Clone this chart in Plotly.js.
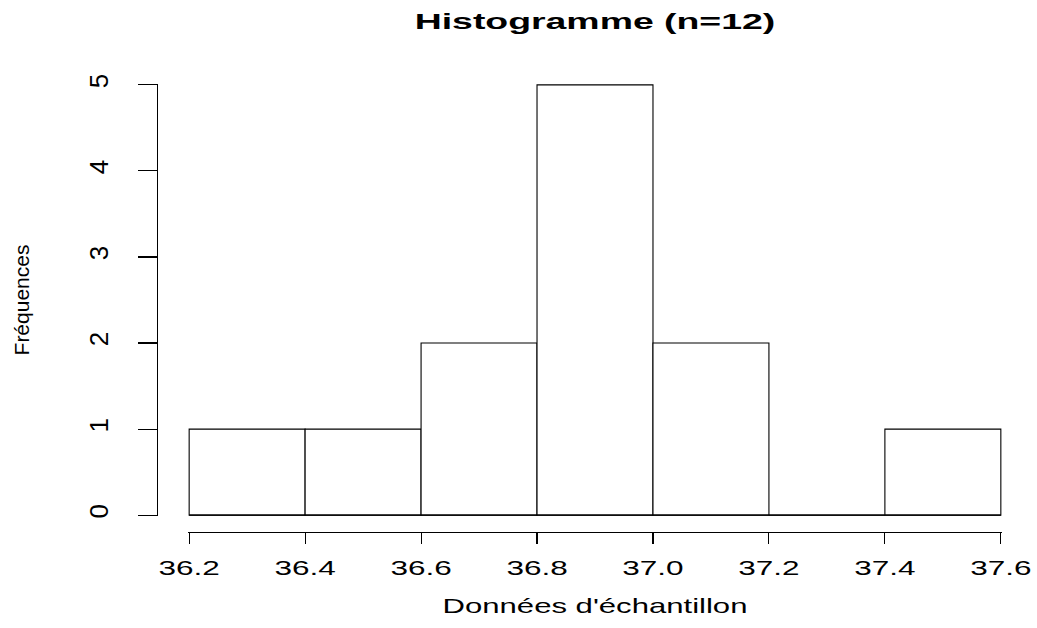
<!DOCTYPE html>
<html>
<head>
<meta charset="utf-8">
<script src="https://cdn.plot.ly/plotly-3.0.1.min.js"></script>
<style>
  html, body { margin: 0; padding: 0; background: #fff; }
  #chart { width: 1037px; height: 628px; }
</style>
</head>
<body>
<div id="chart"></div>
<script>
// ---- data ----
const binEdges = [36.2, 36.4, 36.6, 36.8, 37.0, 37.2, 37.4, 37.6];
const counts = [1, 1, 2, 5, 2, 0, 1];
const xTickLabels = ['36.2', '36.4', '36.6', '36.8', '37.0', '37.2', '37.4', '37.6'];
const yTicks = [0, 1, 2, 3, 4, 5];
const titleText = 'Histogramme (n=12)';
const xTitle = "Données d'échantillon";
const yTitle = 'Fréquences';

// bar centres / widths derived from the bin edges
const mids = counts.map((c, i) => (binEdges[i] + binEdges[i + 1]) / 2);
const widths = counts.map((c, i) => binEdges[i + 1] - binEdges[i]);

const W = 1037, H = 628;
const L = 157, R = 35, T = 84, B = 96;
const plotW = W - L - R, plotH = H - T - B;
const barLeftPx = 188, barBottomPx = 516;

const xLo = binEdges[0], xHi = binEdges[binEdges.length - 1];
const xPad = 0.002, yPad = 0.01;

const bars = {
  type: 'bar',
  x: mids,
  y: counts,
  width: widths,
  marker: { color: '#ffffff', line: { color: '#000000', width: 1.1 } },
  cliponaxis: false,
  hoverinfo: 'x+y',
  showlegend: false
};
// baseline drawn like R's degenerate rectangles for empty bins
const baseline = {
  type: 'scatter',
  mode: 'lines',
  x: [xLo, xHi],
  y: [0, 0],
  line: { color: '#000000', width: 1.1 },
  hoverinfo: 'skip',
  showlegend: false
};

const fontFam = '"Liberation Sans", Arial, Helvetica, sans-serif';

const layout = {
  width: W, height: H,
  paper_bgcolor: '#ffffff', plot_bgcolor: '#ffffff',
  margin: { l: L, r: R, t: T, b: B, pad: 0 },
  font: { family: fontFam, color: '#000000' },
  title: {
    text: titleText,
    font: { family: fontFam, size: 22, weight: 'bold', color: '#000' },
    xref: 'container', x: (barLeftPx + (W - R)) / 2 / W, xanchor: 'center',
    yref: 'container', y: 1 - 21 / H, yanchor: 'middle'
  },
  xaxis: {
    range: [xLo - xPad, xHi + xPad],
    domain: [(barLeftPx - L) / plotW, 1],
    anchor: 'free', position: 0,
    tickmode: 'array', tickvals: binEdges, ticktext: xTickLabels,
    ticks: 'outside', ticklen: 11, tickwidth: 1.1, tickcolor: '#000',
    ticklabelstandoff: 6,
    showline: true, linecolor: '#000', linewidth: 1.1,
    showgrid: false, zeroline: false,
    tickfont: { family: fontFam, size: 21, color: '#000' },
    title: { text: xTitle, font: { family: fontFam, size: 21, color: '#000' }, standoff: 20 }
  },
  yaxis: {
    range: [0 - yPad, yTicks[yTicks.length - 1] + yPad],
    domain: [((T + plotH) - barBottomPx) / plotH, 1],
    anchor: 'free', position: 0,
    tickmode: 'array', tickvals: yTicks,
    ticks: 'outside', ticklen: 19, tickwidth: 1.1, tickcolor: '#000',
    ticklabelstandoff: 20,
    tickangle: -90,
    showline: true, linecolor: '#000', linewidth: 1.1,
    showgrid: false, zeroline: false,
    tickfont: { family: fontFam, size: 26, color: '#000' },
    title: { text: yTitle, font: { family: fontFam, size: 21, color: '#000' }, standoff: 47 }
  },
  showlegend: false,
  bargap: 0
};

Plotly.newPlot('chart', [bars, baseline], layout, { displayModeBar: false, staticPlot: true }).then(function () {
  // R's device renders horizontal text wider than normal Arial: stretch glyphs.
  function stretch(sel, factor) {
    document.querySelectorAll(sel).forEach(function (t) {
      var w = t.getComputedTextLength();
      if (w > 0) {
        t.setAttribute('textLength', (w * factor).toFixed(1));
        t.setAttribute('lengthAdjust', 'spacingAndGlyphs');
      }
    });
  }
  stretch('.gtitle', 1.7);
  stretch('.xtick text', 1.5);
  stretch('.g-xtitle text', 1.48);
});
</script>
</body>
</html>
